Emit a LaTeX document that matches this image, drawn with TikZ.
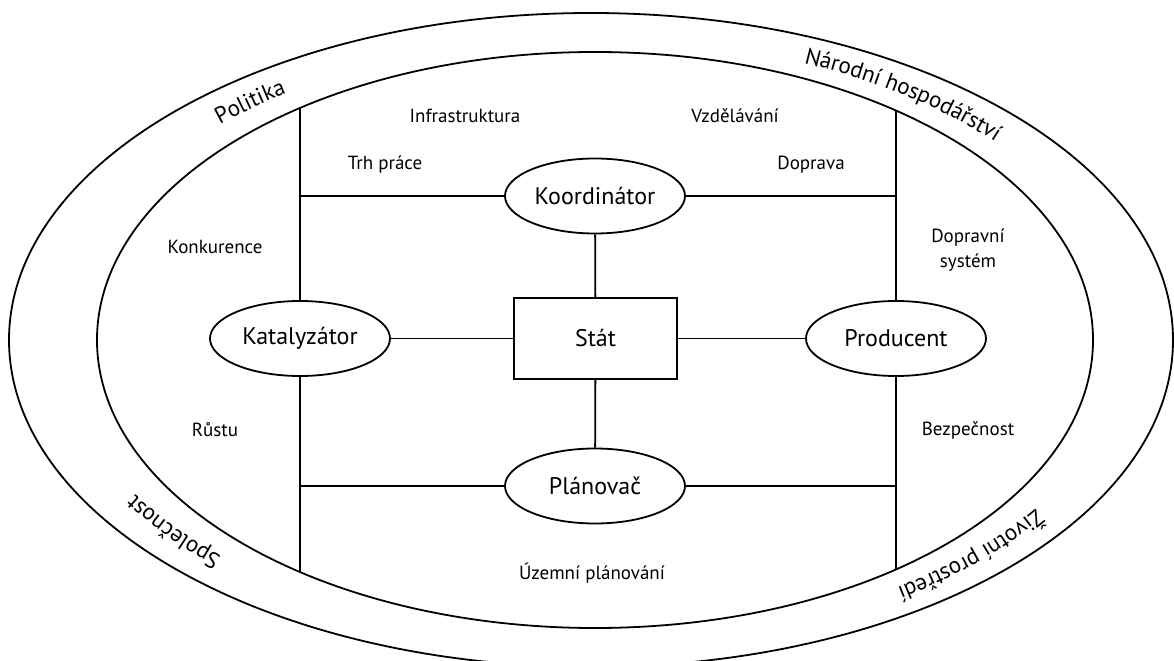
\documentclass[tikz,border=0pt]{standalone}
\usepackage{fontspec}
\setmainfont{PT Sans}
\usepackage{tikz}
\usetikzlibrary{positioning, shapes.geometric, decorations.text}

\begin{document}
\begin{tikzpicture}[x=0.5pt, y=0.5pt, line width=0.9pt,
  oval/.style={draw, ellipse, inner sep=0pt, minimum width=90pt, minimum height=37.5pt, font=\fontsize{12pt}{14pt}\selectfont},
  lbl/.style={align=center, inner sep=0pt, font=\fontsize{9.5pt}{12.5pt}\selectfont}]
  \useasboundingbox (0,0) rectangle (1174,660);

  % Rings
  \draw (591,320) ellipse [x radius=291pt, y radius=163.5pt];
  \draw (595,320) ellipse [x radius=249pt, y radius=144pt];

  % Ring texts
  \path[decorate, decoration={text along path, text align=center, raise=-3pt,
      text={|\fontsize{11.5pt}{14pt}\selectfont|Politika}}]
    (593,320) ++(151:270pt and 153.75pt) arc[start angle=151, end angle=111, x radius=270pt, y radius=153.75pt];
  \path[decorate, decoration={text along path, text align=center, raise=-3pt,
      text={|\fontsize{11.5pt}{14pt}\selectfont|Národní hospodářství}}]
    (593,320) ++(83:270pt and 153.75pt) arc[start angle=83, end angle=19, x radius=270pt, y radius=153.75pt];
  \path[decorate, decoration={text along path, text align=center, raise=-3pt,
      text={|\fontsize{11.5pt}{14pt}\selectfont|Společnost}}]
    (593,320) ++(237:270pt and 153.75pt) arc[start angle=237, end angle=197, x radius=270pt, y radius=153.75pt];
  \path[decorate, decoration={text along path, text align=center, raise=-3pt,
      text={|\fontsize{11.5pt}{14pt}\selectfont|Životní prostředí}}]
    (593,320) ++(351:270pt and 153.75pt) arc[start angle=351, end angle=287, x radius=270pt, y radius=153.75pt];

  % Centre and roles
  \node (stat) [draw, minimum width=81.5pt, minimum height=40.5pt, font=\fontsize{12pt}{14pt}\selectfont] at (595.5,321.5) {Stát};
  \node (koord) [oval] at (595,464) {Koordinátor};
  \node (plan) [oval] at (595,174) {Plánovač};
  \node (kat) [oval] at (300,321.5) {Katalyzátor};
  \node (prod) [oval] at (896,321.5) {Producent};

  % Ends on the inner ring
  \coordinate (lvtop) at (300,552);
  \coordinate (lvbot) at (300,88);
  \coordinate (rvtop) at (896,549.5);
  \coordinate (rvbot) at (896,90.5);

  % Connectors
  \draw (stat) -- (koord);
  \draw (stat) -- (plan);
  \draw (stat) -- (kat);
  \draw (stat) -- (prod);
  \draw (kat.north) -- (lvtop);
  \draw (kat.south) -- (lvbot);
  \draw (prod.north) -- (rvtop);
  \draw (prod.south) -- (rvbot);
  \draw (koord.west) -- (koord.west -| lvtop);
  \draw (koord.east) -- (koord.east -| rvtop);
  \draw (plan.west) -- (plan.west -| lvbot);
  \draw (plan.east) -- (plan.east -| rvbot);

  % Fields
  \node (infra) [lbl] at (465,544) {Infrastruktura};
  \node (vzdel) [lbl] at (735,544) {Vzdělávání};
  \node (trh) [lbl] at (385,495) {Trh práce};
  \node (dopr) [lbl] at (811,495) {Doprava};
  \node (konk) [lbl] at (215,413) {Konkurence};
  \node (dsys) [lbl] at (968,410) {Dopravní\\systém};
  \node (rust) [lbl] at (215,230) {Růstu};
  \node (bezp) [lbl] at (968,230) {Bezpečnost};
  \node (uzemi) [lbl] at (592,87) {Územní plánování};
\end{tikzpicture}
\end{document}
